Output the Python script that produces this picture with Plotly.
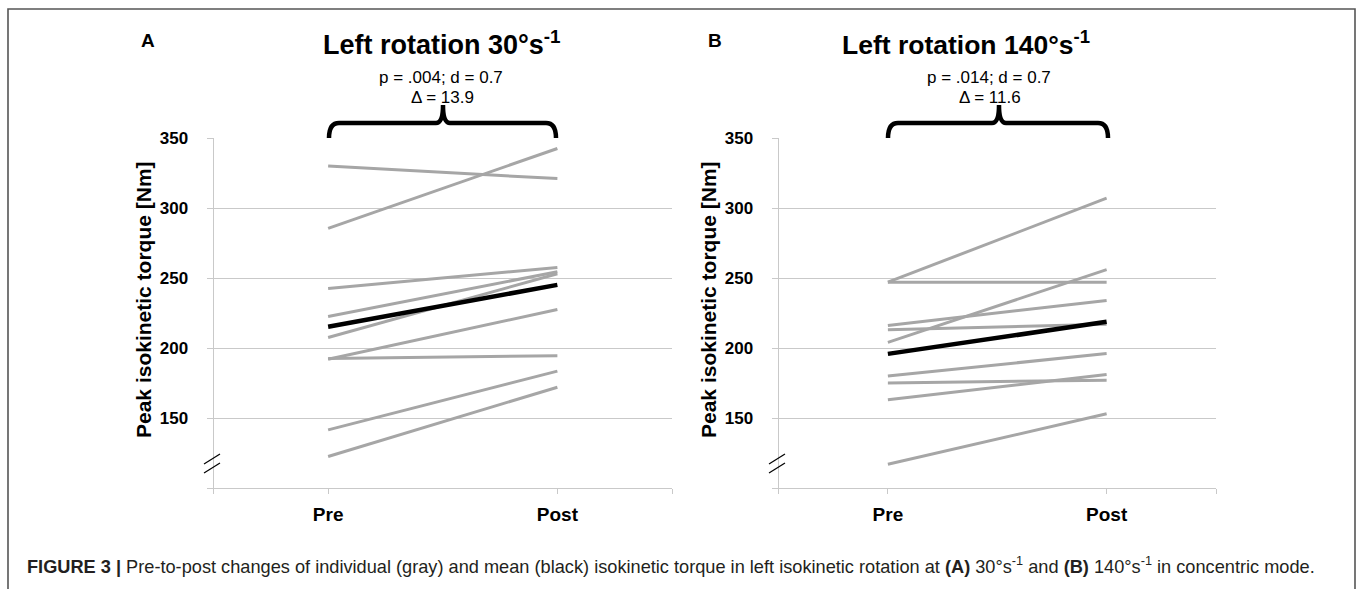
import plotly.graph_objects as go

# ---------------- data ----------------
categories = ["Pre", "Post"]

# Panel A: Left rotation 30°/s (individuals)
a_pre = [330, 285.5, 242.5, 222.5, 207.5, 192, 192.5, 141.5, 122.5]
a_post = [321, 342.5, 257.5, 254.5, 253, 227.5, 194.5, 183.5, 172]
a_mean = [215.2, 245.1]

# Panel B: Left rotation 140°/s (individuals)
b_pre = [247, 247, 204, 216, 213, 180, 175, 163, 117]
b_post = [307, 247, 256, 234, 217, 196, 177, 181, 153]
b_mean = [195.8, 218.7]

y_ticks = [100, 150, 200, 250, 300, 350]
y_ticklabels = ["", "150", "200", "250", "300", "350"]

W, H = 1358, 589
FONT = "Liberation Sans, Arial, sans-serif"
GRAY = "#a6a6a6"
GRID = "#c9c9c9"


def px(x):
    return x / W


def py(y):
    return 1 - y / H


fig = go.Figure()
xi = list(range(len(categories)))

for pre, post, mean, xa, ya in [(a_pre, a_post, a_mean, "x", "y"),
                                 (b_pre, b_post, b_mean, "x2", "y2")]:
    for p0, p1 in zip(pre, post):
        fig.add_trace(go.Scatter(x=xi, y=[p0, p1], mode="lines",
                                 line=dict(color=GRAY, width=3),
                                 xaxis=xa, yaxis=ya, showlegend=False,
                                 hoverinfo="skip"))
    fig.add_trace(go.Scatter(x=xi, y=mean, mode="lines",
                             line=dict(color="black", width=4.5),
                             xaxis=xa, yaxis=ya, showlegend=False,
                             hoverinfo="skip"))

ydom = [py(488), py(138)]
xdomA = [px(213.5), px(672)]
xdomB = [px(778.5), px(1216)]

common_x = dict(range=[-0.5, 1.5], tickvals=[-0.5, 0, 1, 1.5],
                ticktext=["", categories[0], categories[1], ""],
                showgrid=False, zeroline=False, showline=True,
                linecolor=GRID, linewidth=1, ticks="outside", ticklen=5,
                tickcolor=GRID, ticklabelstandoff=4, automargin=False,
                tickfont=dict(family=FONT, size=19, color="black", weight="bold"),
                fixedrange=True)
common_y = dict(range=[100, 350], tickvals=y_ticks, ticktext=y_ticklabels,
                showgrid=True, gridcolor=GRID, gridwidth=1, zeroline=False,
                showline=True, linecolor=GRID, linewidth=1, ticks="outside",
                ticklen=6, tickcolor=GRID, ticklabelstandoff=15, automargin=False,
                tickfont=dict(family=FONT, size=17, color="black", weight="bold"),
                fixedrange=True)

fig.update_layout(
    template="none",
    width=W, height=H, autosize=False,
    margin=dict(l=0, r=0, t=0, b=0, pad=0, autoexpand=False),
    showlegend=False,
    paper_bgcolor="white", plot_bgcolor="white",
    xaxis=dict(domain=xdomA, anchor="y", **common_x),
    yaxis=dict(domain=ydom, anchor="x", **common_y),
    xaxis2=dict(domain=xdomB, anchor="y2", **common_x),
    yaxis2=dict(domain=ydom, anchor="x2", **common_y),
)

ann = []


def text(x, y, s, size, bold=False, color="black", xanchor="center", angle=0):
    ann.append(dict(x=px(x), y=py(y), xref="paper", yref="paper", text=s,
                    showarrow=False, xanchor=xanchor, yanchor="middle",
                    textangle=angle,
                    font=dict(family=FONT, size=size, color=color,
                              weight="bold" if bold else "normal")))


# panel letters
text(148, 41, "A", 19, bold=True)
text(715, 41, "B", 19, bold=True)
# titles
text(442, 43, "Left rotation 30°s<sup>-1</sup>", 27, bold=True)
text(966, 43, "Left rotation 140°s<sup>-1</sup>", 26.5, bold=True)
# stats
text(441, 77, "p = .004; d = 0.7", 17)
text(442, 97, "Δ = 13.9", 17)
text(989, 77, "p = .014; d = 0.7", 17)
text(990, 97, "Δ = 11.6", 17)
# y axis titles
text(143, 300, "Peak isokinetic torque [Nm]", 21, bold=True, angle=-90)
text(708, 300, "Peak isokinetic torque [Nm]", 21, bold=True, angle=-90)
# caption
text(25, 565,
     "<b>FIGURE 3 |</b> Pre-to-post changes of individual (gray) and mean (black) "
     "isokinetic torque in left isokinetic rotation at <b>(A)</b> 30°s<sup>-1</sup> "
     "and <b>(B)</b> 140°s<sup>-1</sup> in concentric mode.",
     18.2, color="#231f20", xanchor="left")
fig.update_layout(annotations=ann)

shapes = []


def brace(x0, x1, xm):
    yb, ye, yt = 123, 138, 105
    pts = (f"M {px(x0)},{py(ye)} Q {px(x0)},{py(yb)} {px(x0 + 10)},{py(yb)} "
           f"L {px(xm - 7)},{py(yb)} Q {px(xm)},{py(yb)} {px(xm)},{py(yt)} "
           f"Q {px(xm)},{py(yb)} {px(xm + 7)},{py(yb)} "
           f"L {px(x1 - 10)},{py(yb)} Q {px(x1)},{py(yb)} {px(x1)},{py(ye)}")
    shapes.append(dict(type="path", path=pts, xref="paper", yref="paper",
                       line=dict(color="black", width=4.5)))


brace(329, 556, 443)
brace(888, 1108, 999)

# axis break marks
for xc in (212, 777):
    for yc in (459, 468):
        shapes.append(dict(type="line", xref="paper", yref="paper",
                           x0=px(xc - 8), y0=py(yc + 5), x1=px(xc + 8), y1=py(yc - 5),
                           line=dict(color="black", width=1.2)))

# frame
shapes.append(dict(type="rect", xref="paper", yref="paper",
                   x0=px(8), y0=py(H + 5), x1=px(1355), y1=py(9),
                   line=dict(color="#555555", width=1.6)))

fig.update_layout(shapes=shapes)
fig.write_html("out.html", config={"displayModeBar": False},
               post_script="document.body.style.margin='0';"
                           "document.body.style.overflow='hidden';")
